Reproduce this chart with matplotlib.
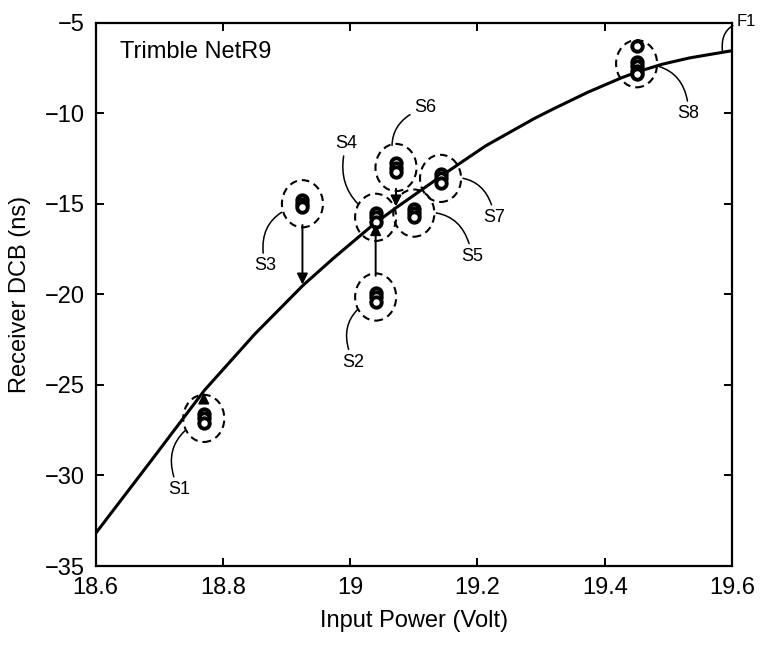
import numpy as np
import matplotlib
matplotlib.use("Agg")
import matplotlib.pyplot as plt
from matplotlib.path import Path
import matplotlib.transforms as mtransforms

plt.rcParams['font.family'] = ['Liberation Sans Narrow', 'Liberation Sans', 'DejaVu Sans']

# fitted curve F1
fit_x = [18.6, 18.687, 18.771, 18.85, 18.926, 18.974, 19.038, 19.073, 19.15,
         19.213, 19.289, 19.32, 19.373, 19.426, 19.453, 19.49, 19.533, 19.6]
fit_y = [-33.2, -29.2, -25.3, -22.2, -19.5, -18.0, -16.1, -15.2, -13.3,
         -11.8, -10.3, -9.75, -8.85, -8.05, -7.7, -7.3, -6.95, -6.55]

# measured receiver DCB per session
names = ['S1', 'S2', 'S3', 'S4', 'S5', 'S6', 'S7', 'S8']
power = [18.77, 19.04, 18.925, 19.04, 19.10, 19.072, 19.142, 19.45]
dcb = [
    [-26.6, -26.85, -27.1],
    [-19.9, -20.15, -20.4],
    [-14.8, -15.0, -15.2],
    [-15.5, -15.75, -16.0],
    [-15.3, -15.5, -15.75],
    [-12.75, -13.0, -13.25],
    [-13.35, -13.6, -13.85],
    [-6.3, -7.15, -7.4, -7.65, -7.85],
]
moved = ['S1', 'S2', 'S3', 'S6']   # sessions with a correction arrow to the curve

x_ticks = [18.6, 18.8, 19.0, 19.2, 19.4, 19.6]
x_tick_labels = ['18.6', '18.8', '19', '19.2', '19.4', '19.6']
y_ticks = [-35, -30, -25, -20, -15, -10, -5]

# label offsets (pixels) from each session centre
label_off = {'S1': (-25, -71), 'S2': (-22, -65), 'S3': (-37, -62), 'S4': (-29, 74),
             'S5': (58, -43), 'S6': (29, 60), 'S7': (54, -39), 'S8': (52, -50)}
label_rad = {'S1': -0.5, 'S2': -0.5, 'S3': -0.5, 'S4': 0.4,
             'S5': 0.5, 'S6': 0.5, 'S7': 0.5, 'S8': 0.5}

fig = plt.figure(figsize=(7.61, 6.46), dpi=100)
ax = fig.add_axes([0.1256, 0.1238, 0.962 - 0.1256, 0.965 - 0.1238])

ax.plot(fit_x, fit_y, color='k', lw=2.2, solid_capstyle='butt',
        solid_joinstyle='round', zorder=3)

ring = Path.unit_circle().transformed(mtransforms.Affine2D().scale(1.0, 1.15))
ring_r = 17  # vertical radius of the dashed ring, points

for name, x, ys in zip(names, power, dcb):
    ax.plot([x] * len(ys), ys, 'o', ms=7.5, mfc='white', mec='k', mew=2.8, zorder=4)
    cy = float(np.mean(ys))
    ax.scatter([x], [cy], s=(2 * ring_r) ** 2, marker=ring, facecolors='none',
               edgecolors='k', linewidths=1.5, linestyles=(0, (3.6, 2.4)), zorder=5)
    dx, dy = label_off[name]
    ax.annotate(name, xy=(x, cy), xytext=(dx, dy), textcoords='offset pixels',
                ha='center', va='center', fontsize=13,
                arrowprops=dict(arrowstyle='-', color='k', lw=1.1, shrinkA=1,
                                shrinkB=ring_r * 0.95,
                                connectionstyle='arc3,rad=%s' % label_rad[name]))
    if name in moved:
        target = float(np.interp(x, fit_x, fit_y))
        ax.annotate('', xy=(x, target), xytext=(x, cy),
                    arrowprops=dict(arrowstyle='-|>', color='k', lw=1.4,
                                    mutation_scale=16, shrinkA=ring_r * 0.9, shrinkB=1),
                    zorder=6)

# F1 label on the fitted curve
f1_x = 19.585
ax.annotate('F1', xy=(f1_x, float(np.interp(f1_x, fit_x, fit_y))), xytext=(24, 31),
            textcoords='offset pixels', ha='center', va='center', fontsize=12,
            annotation_clip=False,
            arrowprops=dict(arrowstyle='-', color='k', lw=1.1, shrinkA=1, shrinkB=0,
                            connectionstyle='arc3,rad=0.5'))

ax.text(0.038, 0.946, 'Trimble NetR9', transform=ax.transAxes, ha='left', va='center',
        fontsize=17)

ax.set_xlim(18.6, 19.6)
ax.set_ylim(-35, -5)
ax.set_xticks(x_ticks)
ax.set_xticklabels(x_tick_labels)
ax.set_yticks(y_ticks)
ax.tick_params(direction='in', length=6, width=1.4, top=True, right=True,
               labelsize=17, pad=8)
for sp in ax.spines.values():
    sp.set_linewidth(1.6)
ax.set_xlabel('Input Power (Volt)', fontsize=17, labelpad=8)
ax.set_ylabel('Receiver DCB (ns)', fontsize=17, labelpad=10)

fig.savefig('out.png', dpi=100)
